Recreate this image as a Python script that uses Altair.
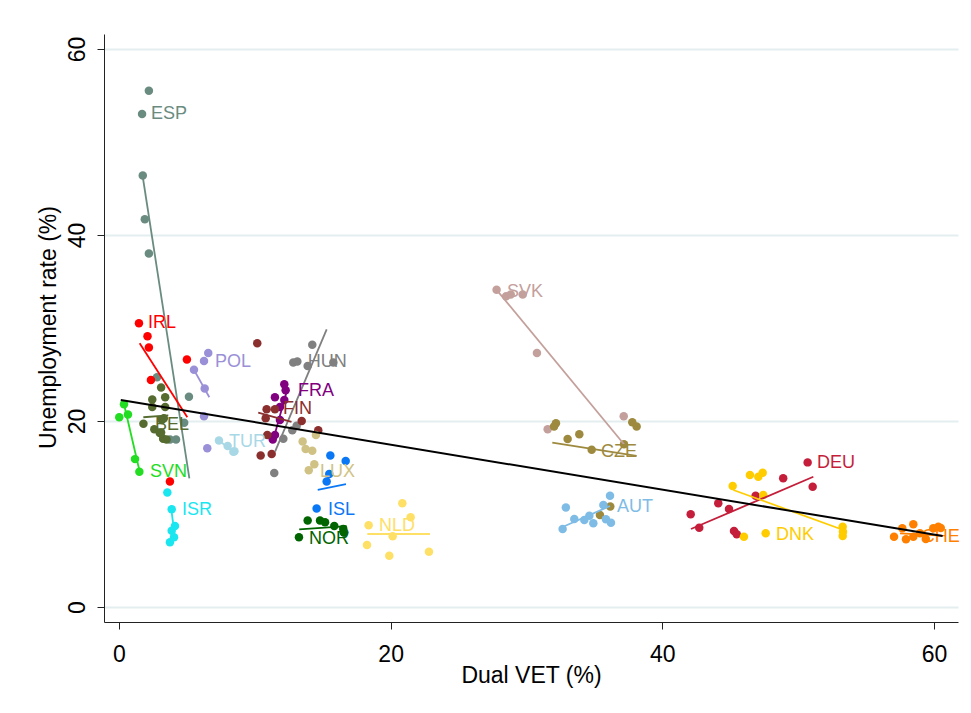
import altair as alt
import pandas as pd

FONT = "Liberation Sans"

COUNTRIES = ["ESP", "IRL", "BEL", "SVN", "ISR", "POL", "TUR", "HUN", "FRA", "FIN",
             "LUX", "ISL", "NOR", "NLD", "SVK", "CZE", "AUT", "DEU", "DNK", "CHE"]
COLORS = ["#6A8C80", "#FF0000", "#566B2F", "#22DD22", "#1AE6F0", "#9A90D8", "#A8D8E6",
          "#808080", "#800080", "#8B2E2E", "#D0C284", "#0A78F5", "#006400", "#FFE066",
          "#C4A09C", "#9E8A3E", "#7EBCE6", "#C41E3A", "#FFCC00", "#FF8000"]

# observations per country (Dual VET %, unemployment rate %)
ESP_X = [2.2, 1.7, 1.75, 1.9, 2.2, 2.8, 5.15, 4.8, 3.75, 4.2]
ESP_Y = [55.5, 53.0, 46.4, 41.7, 38.0, 24.7, 22.6, 19.8, 18.0, 18.0]
IRL_X = [1.47, 2.1, 2.2, 5.0, 2.35, 3.75]
IRL_Y = [30.5, 29.1, 27.9, 26.6, 24.4, 13.5]
BEL_X = [3.1, 2.45, 3.4, 2.45, 3.4, 1.8, 2.6, 3.15, 3.0, 3.25, 3.3, 3.5, 3.1]
BEL_Y = [23.6, 22.3, 22.55, 21.5, 21.5, 19.7, 19.1, 20.1, 18.7, 18.1, 20.3, 18.0, 18.75]
SVN_X = [0.37, 0.02, 0.66, 1.18, 1.5]
SVN_Y = [21.8, 20.4, 20.7, 15.9, 14.55]
ISR_X = [3.56, 3.88, 4.12, 3.88, 4.05, 3.75]
ISR_Y = [12.3, 10.5, 8.7, 8.2, 7.5, 6.96]
POL_X = [6.57, 6.26, 5.52, 6.31, 6.26, 6.5]
POL_Y = [27.3, 26.45, 25.5, 23.5, 20.5, 17.06]
TUR_X = [7.36, 8.0, 8.42, 8.5]
TUR_Y = [17.9, 17.3, 16.7, 16.75]
HUN_X = [14.23, 12.83, 13.13, 13.89, 15.78, 12.76, 12.1, 11.43, 13.08]
HUN_Y = [28.2, 26.3, 26.4, 25.9, 26.3, 19.0, 18.1, 14.4, 19.5]
FRA_X = [12.17, 12.27, 11.48, 12.17, 11.85, 11.85, 11.48, 11.32]
FRA_Y = [23.95, 23.3, 22.55, 22.26, 21.5, 20.1, 18.5, 18.0]
FIN_X = [10.18, 10.87, 11.48, 10.8, 13.45, 14.67, 10.92, 10.43, 11.24]
FIN_Y = [28.35, 21.25, 21.25, 20.3, 20.0, 19.0, 18.5, 16.3, 16.45]
LUX_X = [13.52, 13.74, 14.23, 14.5, 14.38, 13.97]
LUX_Y = [17.8, 17.0, 16.8, 18.5, 15.35, 14.7]
ISL_X = [15.56, 16.69, 15.48, 15.29, 14.55, 16.6]
ISL_Y = [16.3, 15.7, 14.3, 13.5, 10.6, 8.0]
NOR_X = [13.89, 14.8, 15.17, 15.85, 16.51, 16.55, 13.25]
NOR_Y = [9.3, 9.3, 9.1, 8.7, 8.4, 8.0, 7.5]
NLD_X = [20.86, 21.47, 18.38, 20.15, 18.26, 19.9, 22.82]
NLD_Y = [11.15, 9.65, 8.8, 7.6, 6.67, 5.5, 5.95]
SVK_X = [27.8, 28.5, 28.84, 29.72, 30.77, 31.56, 37.16]
SVK_Y = [34.1, 33.4, 33.6, 33.6, 27.3, 19.1, 20.5]
CZE_X = [32.17, 32.03, 33.03, 33.89, 34.8, 37.79, 38.11, 37.18, 36.17, 35.41]
CZE_Y = [19.75, 19.4, 18.06, 18.57, 16.9, 19.86, 19.4, 17.5, 10.8, 9.9]
AUT_X = [36.15, 35.66, 32.9, 33.52, 34.26, 34.63, 34.92, 35.85, 36.22, 32.66]
AUT_Y = [11.97, 10.97, 10.7, 9.46, 9.35, 9.8, 9.0, 9.43, 9.06, 8.39]
DEU_X = [50.7, 48.9, 51.07, 46.87, 44.12, 44.91, 42.09, 42.72, 45.28, 45.48]
DEU_Y = [15.55, 13.84, 12.94, 11.97, 11.15, 10.54, 9.97, 8.53, 8.17, 7.82]
DNK_X = [46.45, 47.07, 47.39, 45.18, 47.43, 53.28, 53.28, 46.01, 47.61, 53.3]
DNK_Y = [14.19, 14.0, 14.44, 13.0, 12.04, 8.63, 7.63, 7.56, 7.92, 8.1]
CHE_X = [57.06, 57.67, 58.48, 57.94, 58.48, 58.97, 59.95, 60.32, 59.4, 60.5]
CHE_Y = [7.56, 8.46, 8.9, 7.28, 7.56, 7.92, 8.46, 8.64, 7.3, 8.5]

ALL_X = [ESP_X, IRL_X, BEL_X, SVN_X, ISR_X, POL_X, TUR_X, HUN_X, FRA_X, FIN_X,
         LUX_X, ISL_X, NOR_X, NLD_X, SVK_X, CZE_X, AUT_X, DEU_X, DNK_X, CHE_X]
ALL_Y = [ESP_Y, IRL_Y, BEL_Y, SVN_Y, ISR_Y, POL_Y, TUR_Y, HUN_Y, FRA_Y, FIN_Y,
         LUX_Y, ISL_Y, NOR_Y, NLD_Y, SVK_Y, CZE_Y, AUT_Y, DEU_Y, DNK_Y, CHE_Y]

# country-specific fitted lines (start and end points)
FIT_COUNTRY = ["ESP", "IRL", "BEL", "SVN", "ISR", "POL", "TUR", "HUN", "FRA", "FIN",
               "ISL", "NOR", "NLD", "SVK", "CZE", "AUT", "DEU", "DNK", "CHE"]
FIT_X0 = [1.73, 1.52, 1.79, 0.37, 3.85, 5.52, 7.36, 15.29, 11.32, 10.25,
          14.63, 13.27, 18.28, 27.8, 31.9, 32.66, 42.11, 45.23, 57.5]
FIT_Y0 = [46.45, 28.35, 20.4, 21.8, 10.5, 25.5, 17.9, 29.86, 17.8, 20.9,
          12.6, 8.35, 7.85, 34.1, 17.67, 8.6, 8.39, 12.58, 7.92]
FIT_X1 = [5.18, 5.03, 3.63, 1.5, 4.05, 6.65, 8.42, 11.49, 12.35, 12.7,
          16.71, 16.76, 22.9, 37.18, 38.11, 36.15, 51.12, 53.33, 60.57]
FIT_Y1 = [13.84, 20.4, 20.6, 14.7, 8.3, 22.55, 16.7, 16.7, 23.2, 19.9,
          13.2, 8.7, 7.85, 17.5, 16.24, 10.86, 14.0, 8.28, 7.67]

# label positions (start of text, vertical centre)
LABEL_X = [2.36, 2.13, 2.65, 2.28, 4.64, 7.07, 8.1, 13.9, 13.18, 12.07,
           14.8, 15.39, 13.99, 19.14, 28.56, 35.49, 36.66, 51.39, 48.37, 59.1]
LABEL_Y = [53.0, 30.5, 19.57, 14.5, 10.4, 26.3, 17.7, 26.3, 23.2, 21.3,
           14.5, 10.4, 7.3, 8.7, 33.9, 16.67, 10.75, 15.48, 7.74, 7.53]

# pooled fitted line
POOL_X = [0.13, 60.64]
POOL_Y = [22.26, 7.63]

X_DOMAIN = [-1.104, 61.77]
Y_DOMAIN = [-1.613, 61.61]
TICKS = [0, 20, 40, 60]

pts = pd.DataFrame([
    {"country": c, "x": x, "y": y}
    for c, xs, ys in zip(COUNTRIES, ALL_X, ALL_Y)
    for x, y in zip(xs, ys)
])
fits = pd.DataFrame(
    [{"country": c, "x": x0, "y": y0, "o": 0} for c, x0, y0 in zip(FIT_COUNTRY, FIT_X0, FIT_Y0)]
    + [{"country": c, "x": x1, "y": y1, "o": 1} for c, x1, y1 in zip(FIT_COUNTRY, FIT_X1, FIT_Y1)]
)
labels = pd.DataFrame({"country": COUNTRIES, "x": LABEL_X, "y": LABEL_Y})
pool = pd.DataFrame({"x": POOL_X, "y": POOL_Y})

color = alt.Color("country:N", scale=alt.Scale(domain=COUNTRIES, range=COLORS), legend=None)

xenc = alt.X("x:Q", scale=alt.Scale(domain=X_DOMAIN, nice=False, zero=False),
             axis=alt.Axis(values=TICKS, grid=False, title="Dual VET (%)",
                           labelFontSize=23, titleFontSize=23, tickSize=7,
                           labelBaseline="alphabetic", labelPadding=32,
                           titleY=60, titleBaseline="alphabetic",
                           labelFont=FONT, titleFont=FONT, titleFontWeight="normal",
                           domainColor="#222222", tickColor="#222222",
                           labelColor="#000000", titleColor="#000000"))
yenc = alt.Y("y:Q", scale=alt.Scale(domain=Y_DOMAIN, nice=False, zero=False),
             axis=alt.Axis(values=TICKS, grid=True, gridColor="#E4EEF0", gridWidth=2,
                           title="Unemployment rate (%)",
                           labelFontSize=23, titleFontSize=23, tickSize=7,
                           labelAngle=270, labelAlign="center", labelBaseline="alphabetic",
                           labelPadding=13, titleX=-56, titleY=293, titleAngle=270,
                           titleBaseline="middle", titleAlign="center",
                           labelFont=FONT, titleFont=FONT, titleFontWeight="normal",
                           domainColor="#222222", tickColor="#222222",
                           labelColor="#000000", titleColor="#000000"))

points = alt.Chart(pts).mark_circle(size=72, opacity=1).encode(x=xenc, y=yenc, color=color)
lines = alt.Chart(fits).mark_line(strokeWidth=1.8).encode(
    x="x:Q", y="y:Q", color=color, detail="country:N", order="o:Q")
texts = alt.Chart(labels).mark_text(align="left", baseline="middle", fontSize=18, font=FONT).encode(
    x="x:Q", y="y:Q", text="country:N", color=color)
pooled = alt.Chart(pool).mark_line(color="#000000", strokeWidth=2).encode(x="x:Q", y="y:Q")

chart = alt.layer(points, lines, texts, pooled).properties(
    width=854, height=588,
    autosize=alt.AutoSizeParams(type="none"),
    padding={"left": 96, "top": 26, "right": 5, "bottom": 80},
    background="white",
).configure_view(stroke=None)

chart.save("out.html", embed_options={"renderer": "svg", "actions": False})
